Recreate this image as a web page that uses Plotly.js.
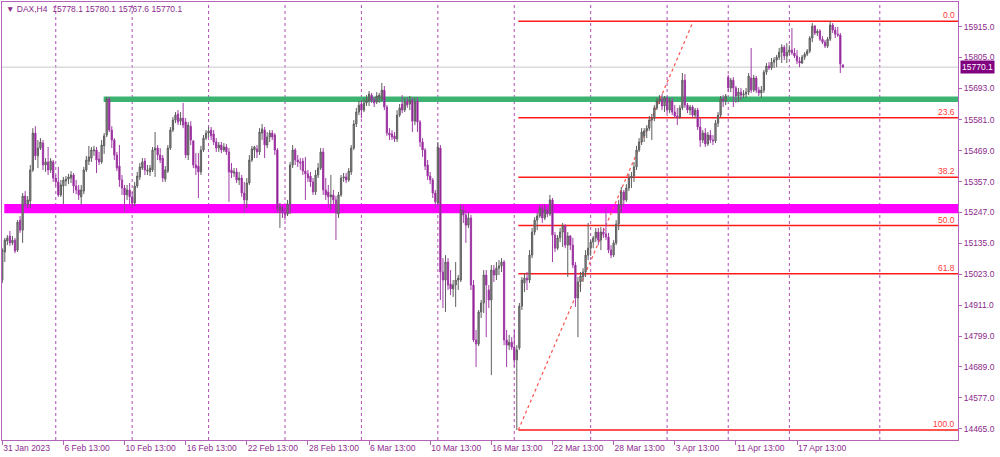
<!DOCTYPE html>
<html><head><meta charset="utf-8">
<script src="https://cdn.plot.ly/plotly-3.0.1.min.js"></script>
<style>html,body{margin:0;padding:0;background:#fff;}#chart{width:1000px;height:457px;}</style>
</head><body><div id="chart"></div>
<script>
const symbol = 'DAX,H4';
const openP = [
15002,15103,15143,15161,15136,15146,15110,15218,15182,15305,
15276,15287,15399,15532,15450,15478,15496,15417,15428,15399,
15428,15370,15356,15309,15341,15359,15366,15370,15381,15341,
15327,15302,15323,15399,15431,15442,15468,15471,15439,15428,
15486,15525,15655,15543,15507,15453,15413,15363,15334,15309,
15327,15302,15280,15341,15374,15406,15431,15395,15392,15399,
15471,15478,15453,15442,15366,15395,15478,15543,15579,15601,
15575,15586,15572,15453,15557,15504,15417,15413,15392,15471,
15514,15532,15543,15529,15500,15478,15489,15471,15482,15464,
15399,15388,15392,15363,15370,15316,15291,15352,15435,15471,
15475,15464,15532,15543,15489,15518,15532,15525,15471,15255,
15265,15244,15240,15276,15417,15471,15435,15428,15431,15395,
15385,15377,15356,15320,15381,15406,15464,15327,15320,15302,
15309,15291,15240,15309,15370,15374,15363,15392,15478,15565,
15608,15637,15615,15641,15648,15669,15651,15644,15662,15655,
15687,15626,15532,15529,15522,15511,15597,15637,15615,15648,
15637,15651,15575,15648,15572,15500,15471,15417,15377,15363,
15316,15280,15478,15031,15002,15067,14988,14970,14984,15002,
15002,15255,15237,15200,15226,14984,14786,14771,14887,14919,
15020,14966,14930,15038,15020,15045,15053,15067,14786,14767,
14778,14760,14714,14757,14908,14991,15009,15002,15092,15175,
15218,15233,15262,15226,15255,15240,15291,15164,15117,15154,
15175,15197,15128,15161,15128,15056,14937,14995,15013,15031,
15092,15117,15139,15154,15175,15146,15175,15168,15157,15110,
15092,15136,15204,15273,15320,15291,15334,15370,15377,15410,
15471,15500,15522,15540,15550,15579,15586,15623,15648,15655,
15630,15659,15615,15648,15608,15594,15590,15623,15723,15633,
15615,15626,15597,15615,15554,15507,15532,15493,15525,15507,
15504,15568,15597,15655,15648,15734,15695,15723,15695,15666,
15680,15669,15673,15680,15731,15687,15731,15687,15677,15687,
15752,15774,15767,15788,15796,15806,15824,15842,15810,15824,
15832,15821,15810,15792,15785,15806,15817,15828,15875,15918,
15893,15900,15871,15860,15846,15871,15922,15904,15889,15886,
15778.1];
const highP = [
15117,15154,15164,15179,15161,15154,15218,15233,15316,15323,
15305,15417,15550,15557,15507,15514,15507,15442,15482,15442,
15435,15381,15410,15363,15374,15377,15385,15395,15388,15363,
15345,15345,15410,15450,15486,15482,15486,15482,15464,15507,
15532,15662,15662,15557,15514,15464,15489,15381,15345,15345,
15352,15320,15356,15392,15424,15442,15442,15417,15417,15482,
15536,15489,15478,15453,15413,15489,15554,15590,15608,15615,
15608,15641,15586,15572,15575,15507,15460,15460,15486,15525,
15543,15554,15554,15543,15514,15500,15500,15496,15493,15478,
15424,15406,15406,15392,15381,15356,15370,15453,15486,15486,
15489,15550,15565,15554,15536,15543,15543,15532,15478,15280,
15273,15262,15291,15428,15489,15478,15453,15442,15442,15446,
15399,15392,15370,15399,15424,15478,15478,15370,15345,15381,
15327,15305,15320,15381,15388,15388,15406,15489,15579,15623,
15648,15651,15659,15669,15684,15677,15662,15680,15677,15713,
15702,15633,15550,15543,15536,15615,15637,15669,15659,15662,
15666,15662,15659,15662,15579,15514,15478,15435,15392,15370,
15327,15500,15489,15081,15092,15081,15038,15002,15067,15020,
15273,15273,15255,15247,15237,15002,14822,14894,14930,15038,
15038,14984,15056,15056,15067,15074,15081,15074,14822,14804,
14796,14822,14767,14919,15013,15027,15031,15110,15190,15229,
15244,15273,15273,15273,15265,15309,15298,15175,15164,15190,
15208,15204,15175,15164,15154,15067,15013,15031,15045,15110,
15208,15146,15161,15190,15190,15193,15190,15265,15172,15128,
15146,15218,15291,15338,15327,15348,15385,15392,15428,15486,
15514,15550,15550,15561,15594,15601,15633,15659,15669,15673,
15666,15666,15659,15659,15633,15623,15633,15749,15745,15641,
15633,15633,15623,15623,15586,15543,15550,15536,15543,15525,
15579,15608,15666,15669,15673,15742,15731,15734,15702,15695,
15695,15687,15695,15749,15839,15742,15738,15698,15702,15760,
15785,15788,15803,15806,15814,15839,15853,15849,15857,15849,
15911,15839,15832,15806,15814,15824,15835,15882,15929,15922,
15907,15907,15882,15868,15879,15936,15929,15915,15915,15893,
15780.1];
const lowP = [
14991,15067,15128,15125,15128,15099,15103,15172,15136,15265,
15262,15262,15392,15435,15406,15471,15399,15392,15381,15388,
15356,15341,15302,15302,15276,15341,15348,15352,15316,15312,
15291,15273,15312,15392,15417,15428,15450,15388,15417,15421,
15457,15518,15536,15478,15435,15395,15338,15309,15247,15291,
15273,15262,15269,15334,15363,15399,15381,15381,15377,15392,
15374,15435,15424,15356,15356,15388,15471,15536,15568,15561,
15561,15550,15442,15435,15489,15406,15381,15298,15381,15464,
15507,15518,15507,15489,15464,15464,15460,15464,15453,15284,
15370,15374,15352,15345,15302,15244,15262,15345,15428,15442,
15442,15453,15507,15442,15478,15500,15507,15453,15244,15190,
15226,15218,15233,15240,15406,15417,15410,15399,15381,15291,
15356,15338,15309,15309,15370,15399,15309,15291,15262,15255,
15273,15146,15226,15302,15356,15352,15356,15381,15471,15554,
15597,15586,15608,15630,15630,15641,15626,15637,15641,15648,
15615,15522,15507,15507,15500,15500,15590,15604,15608,15623,
15615,15536,15561,15536,15482,15446,15399,15363,15348,15298,
15262,15273,14930,14901,14887,14966,14948,14941,14905,14966,
14995,15208,15136,15190,14966,14778,14688,14764,14865,14883,
14796,14901,14659,14995,15002,15020,15031,14767,14688,14750,
14750,14688,14461,14750,14894,14959,14966,14991,15081,15164,
15182,15226,15208,15218,15229,15233,15067,15103,15110,15139,
15121,15117,15013,15110,15045,14905,14796,14959,14995,15013,
15074,15089,15117,15139,15128,15110,15154,15146,15099,15081,
15085,15128,15182,15244,15265,15284,15323,15334,15356,15399,
15464,15489,15500,15514,15540,15507,15575,15615,15637,15615,
15608,15604,15604,15597,15586,15561,15583,15615,15623,15604,
15597,15586,15586,15543,15482,15496,15482,15486,15496,15489,
15496,15554,15590,15626,15633,15680,15680,15626,15641,15644,
15651,15659,15659,15669,15677,15680,15677,15666,15659,15677,
15742,15760,15760,15767,15770,15796,15785,15796,15785,15814,
15814,15803,15781,15770,15781,15796,15810,15821,15860,15886,
15882,15864,15853,15839,15839,15864,15893,15875,15879,15749,
15767.6];
const closeP = [
15110,15146,15154,15136,15146,15107,15211,15182,15305,15276,
15291,15399,15532,15450,15478,15500,15417,15428,15399,15431,
15370,15356,15309,15345,15363,15366,15374,15381,15341,15327,
15309,15327,15399,15435,15446,15471,15471,15435,15428,15489,
15522,15655,15543,15507,15453,15406,15363,15334,15309,15327,
15302,15280,15341,15377,15410,15428,15399,15399,15406,15471,
15478,15453,15435,15370,15399,15478,15543,15579,15597,15572,
15586,15561,15453,15561,15507,15417,15406,15392,15471,15514,
15532,15540,15522,15500,15478,15489,15471,15482,15464,15392,
15388,15392,15363,15370,15316,15291,15352,15435,15475,15482,
15464,15536,15547,15489,15518,15532,15518,15471,15255,15265,
15244,15237,15276,15417,15471,15435,15428,15424,15395,15385,
15370,15356,15320,15381,15406,15464,15327,15309,15302,15309,
15291,15244,15309,15370,15374,15363,15395,15478,15565,15608,
15633,15615,15641,15651,15673,15651,15641,15666,15669,15687,
15626,15532,15525,15518,15511,15597,15623,15615,15644,15633,
15651,15575,15644,15572,15500,15471,15413,15377,15363,15316,
15284,15482,15031,15002,15067,14984,14970,14984,15002,15009,
15255,15237,15200,15226,14984,14786,14771,14887,14919,15020,
14984,14930,15038,15020,15045,15053,15067,14786,14767,14778,
14760,14714,14750,14908,15002,15009,15002,15092,15175,15218,
15233,15262,15226,15255,15240,15291,15164,15117,15154,15175,
15197,15128,15161,15128,15056,14937,14995,15017,15031,15092,
15117,15139,15154,15175,15146,15175,15168,15157,15110,15092,
15136,15204,15273,15320,15291,15334,15370,15377,15410,15471,
15500,15536,15540,15550,15579,15586,15623,15648,15655,15630,
15659,15615,15648,15608,15594,15590,15623,15723,15633,15615,
15626,15597,15615,15554,15507,15532,15493,15525,15507,15504,
15568,15597,15655,15648,15666,15695,15723,15695,15666,15680,
15669,15673,15680,15738,15687,15731,15687,15677,15687,15752,
15774,15767,15788,15796,15806,15824,15842,15810,15824,15832,
15821,15810,15792,15785,15806,15817,15828,15875,15918,15893,
15900,15871,15860,15846,15871,15922,15904,15889,15886,15781,
15770.1];

const xTickBars = [0,24,48,72,96,120,144,168,192,216,240,264,288,312];
const xTickLabels = ['31 Jan 2023','6 Feb 13:00','10 Feb 13:00','16 Feb 13:00','22 Feb 13:00','28 Feb 13:00','6 Mar 13:00','10 Mar 13:00','16 Mar 13:00','22 Mar 13:00','28 Mar 13:00','3 Apr 13:00','11 Apr 13:00','17 Apr 13:00'];
const yTickVals = [14465,14577,14689,14799,14911,15023,15135,15247,15357,15469,15581,15693,15805,15915];
const yTickLabels = ['14465.0','14577.0','14689.0','14799.0','14911.0','15023.0','15135.0','15247.0','15357.0','15469.0','15581.0','15693.0','15805.0','15915.0'];
const separatorBars = [21,51,81,111,141,171,201,231,261,285,309,344.5];
const fibLevels = [0, 23.6, 38.2, 50, 61.8, 100];
const fibLevelLabels = ['0.0','23.6','38.2','50.0','61.8','100.0'];
const fibHighPrice = 15936, fibLowPrice = 14461;
const fibLowBar = 202.6, fibHighBar = 271.3;
const resistanceZone = [15644, 15664];   // green
const resistanceFromBar = 39.8;
const supportZone = [15243, 15276];      // magenta
const supportFromBar = 0.8;
const lastPrice = 15770.1;

const bars = openP.map((_, i) => i);
const xRange = [-0.1, 375.2];
const purple = '#8b2a8b';
const frame = '#b264b8';
const font = 'Liberation Sans, Arial, sans-serif';

const shapes = [];
separatorBars.forEach(b => shapes.push({type:'line', xref:'x', yref:'paper', x0:b, x1:b, y0:0, y1:1,
  line:{color:'#b14cb4', width:1, dash:'dot'}, layer:'below'}));
shapes.push({type:'line', xref:'paper', yref:'y', x0:0, x1:1, y0:lastPrice, y1:lastPrice,
  line:{color:'#c8c8c8', width:1}, layer:'below'});
shapes.push({type:'rect', xref:'x', yref:'y', x0:supportFromBar, x1:xRange[1], y0:supportZone[0], y1:supportZone[1],
  fillcolor:'#ff00ff', line:{width:0}, layer:'below'});
shapes.push({type:'rect', xref:'x', yref:'y', x0:resistanceFromBar, x1:xRange[1], y0:resistanceZone[0], y1:resistanceZone[1],
  fillcolor:'#3cb371', line:{width:0}, layer:'below'});
const fibPrice = lv => fibHighPrice - (fibHighPrice - fibLowPrice) * lv / 100;
fibLevels.forEach(lv => shapes.push({type:'line', xref:'x', yref:'y', x0:fibLowBar, x1:xRange[1], y0:fibPrice(lv), y1:fibPrice(lv),
  line:{color:'#ff1a1a', width:1.5}, layer:'below'}));
shapes.push({type:'line', xref:'x', yref:'y', x0:fibLowBar, x1:fibHighBar, y0:fibLowPrice, y1:fibHighPrice,
  line:{color:'#ff5050', width:1.2, dash:'dot'}, layer:'below'});

const annotations = [];
annotations.push({xref:'paper', yref:'paper', x:0, y:1, xanchor:'left', yanchor:'top', xshift:2, yshift:0,
  showarrow:false, text:'▼ ' + symbol + '\u00a0\u00a0' + [openP[330], highP[330], lowP[330], closeP[330]].map(v => v.toFixed(1)).join(' '),
  font:{family:font, size:8.5, color:purple}});
annotations.push({xref:'paper', yref:'y', x:1, y:lastPrice, xanchor:'left', yanchor:'middle', xshift:2,
  showarrow:false, text:lastPrice.toFixed(1), bgcolor:'#800080', borderpad:1,
  font:{family:font, size:8.5, color:'#ffffff'}});
fibLevels.forEach((lv, k) => annotations.push({xref:'paper', yref:'y', x:1, y:fibPrice(lv), xanchor:'right', yanchor:'bottom',
  xshift:-1, yshift:-1, showarrow:false, text:fibLevelLabels[k], font:{family:font, size:8.5, color:'#ff3a3a'}}));

const trace = {
  type:'candlestick', x:bars, open:openP, high:highP, low:lowP, close:closeP,
  increasing:{line:{color:'#5e5e5e', width:1}, fillcolor:'#8c8c8c'},
  decreasing:{line:{color:'#a03ca6', width:1}, fillcolor:'#800080'},
  whiskerwidth:0, hoverinfo:'skip', showlegend:false
};

const layout = {
  width:1000, height:457, autosize:false,
  margin:{l:2, r:42, t:2, b:17, pad:0},
  paper_bgcolor:'#ffffff', plot_bgcolor:'#ffffff',
  showlegend:false, hovermode:false,
  xaxis:{type:'linear', range:xRange, rangeslider:{visible:false}, showgrid:false, zeroline:false,
    tickmode:'array', tickvals:xTickBars, ticktext:xTickLabels, ticks:'outside', ticklen:4, tickcolor:frame,
    ticklabelposition:'outside right', tickfont:{family:font, size:8.5, color:purple},
    showline:true, linecolor:frame, linewidth:1, mirror:true, fixedrange:true},
  yaxis:{side:'right', range:[14425, 16005], showgrid:false, zeroline:false,
    tickmode:'array', tickvals:yTickVals, ticktext:yTickLabels, ticks:'outside', ticklen:3, tickcolor:frame,
    tickfont:{family:font, size:8.5, color:purple},
    showline:true, linecolor:frame, linewidth:1, mirror:true, fixedrange:true},
  shapes:shapes, annotations:annotations
};

Plotly.newPlot('chart', [trace], layout, {staticPlot:true, displayModeBar:false});
</script>
</body></html>
